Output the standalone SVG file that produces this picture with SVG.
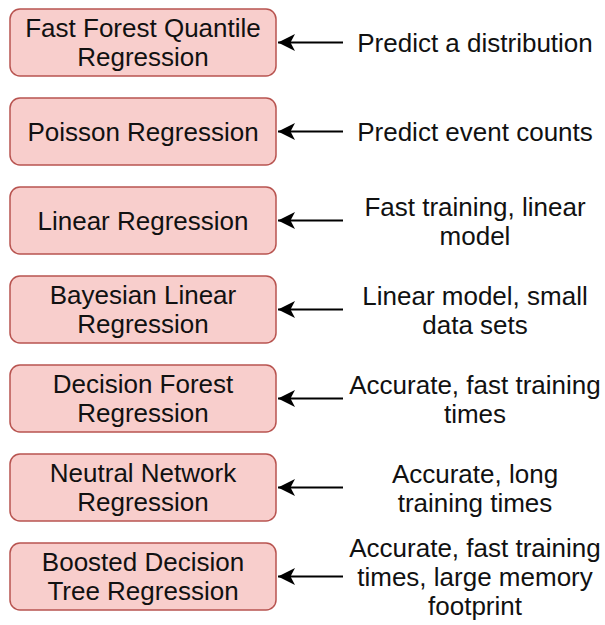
<svg xmlns="http://www.w3.org/2000/svg" width="605" height="625" viewBox="0 0 605 625">
<style>
.box{fill:#f8cecc;stroke:#b85450;stroke-width:1.5}
.t{font-family:"Liberation Sans",Arial,Helvetica,sans-serif;font-size:26px;fill:#111;text-anchor:middle}
.edge{stroke:#000;stroke-width:2;fill:none;marker-end:url(#arr)}
</style>
<defs>
<marker id="arr" viewBox="0 0 17 17" markerWidth="17" markerHeight="17" markerUnits="userSpaceOnUse" refX="17" refY="8.5" orient="auto">
<path d="M0,0 L17,8.5 L0,17 L4.5,8.5 Z" fill="#000"/>
</marker>
</defs>
<rect width="605" height="625" fill="#fff"/>
<g id="n1"><rect class="box" x="10" y="9" width="266" height="67" rx="10"/><text class="t" x="143" y="37">Fast Forest Quantile</text><text class="t" x="143" y="66">Regression</text></g>
<g id="n2"><rect class="box" x="10" y="98" width="266" height="67" rx="10"/><text class="t" x="143" y="141">Poisson Regression</text></g>
<g id="n3"><rect class="box" x="10" y="187" width="266" height="67" rx="10"/><text class="t" x="143" y="230">Linear Regression</text></g>
<g id="n4"><rect class="box" x="10" y="276" width="266" height="67" rx="10"/><text class="t" x="143" y="304">Bayesian Linear</text><text class="t" x="143" y="333">Regression</text></g>
<g id="n5"><rect class="box" x="10" y="365" width="266" height="67" rx="10"/><text class="t" x="143" y="393">Decision Forest</text><text class="t" x="143" y="422">Regression</text></g>
<g id="n6"><rect class="box" x="10" y="454" width="266" height="67" rx="10"/><text class="t" x="143" y="482">Neutral Network</text><text class="t" x="143" y="511">Regression</text></g>
<g id="n7"><rect class="box" x="10" y="543" width="266" height="67" rx="10"/><text class="t" x="143" y="571">Boosted Decision</text><text class="t" x="143" y="600">Tree Regression</text></g>
<g id="l1"><text class="t" x="475" y="52">Predict a distribution</text></g>
<g id="l2"><text class="t" x="475" y="141">Predict event counts</text></g>
<g id="l3"><text class="t" x="475" y="216">Fast training, linear</text><text class="t" x="475" y="245">model</text></g>
<g id="l4"><text class="t" x="475" y="305">Linear model, small</text><text class="t" x="475" y="334">data sets</text></g>
<g id="l5"><text class="t" x="475" y="394">Accurate, fast training</text><text class="t" x="475" y="423">times</text></g>
<g id="l6"><text class="t" x="475" y="483">Accurate, long</text><text class="t" x="475" y="512">training times</text></g>
<g id="l7"><text class="t" x="475" y="557">Accurate, fast training</text><text class="t" x="475" y="586">times, large memory</text><text class="t" x="475" y="615">footprint</text></g>
<g id="edges">
<path class="edge" d="M343,42.5 H278"/>
<path class="edge" d="M343,131.5 H278"/>
<path class="edge" d="M343,220.5 H278"/>
<path class="edge" d="M343,309.5 H278"/>
<path class="edge" d="M343,398.5 H278"/>
<path class="edge" d="M343,487.5 H278"/>
<path class="edge" d="M343,576.5 H278"/>
</g>
</svg>
